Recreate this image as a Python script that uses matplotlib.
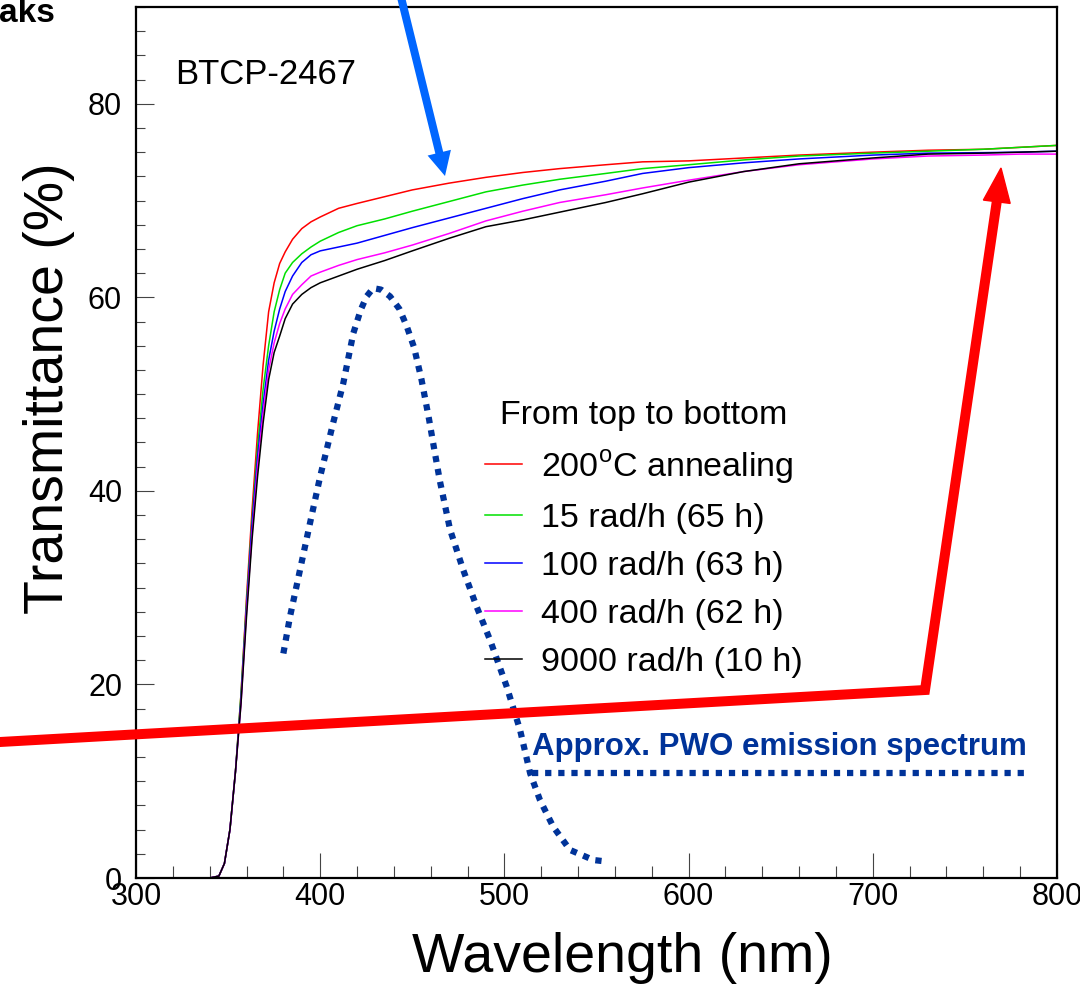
import matplotlib
matplotlib.use('Agg')
import matplotlib.pyplot as plt
from matplotlib.lines import Line2D
from matplotlib.patches import FancyArrow
from matplotlib.ticker import MultipleLocator

plt.rcParams['font.family'] = ['Liberation Sans', 'DejaVu Sans']
plt.rcParams['mathtext.fontset'] = 'custom'
plt.rcParams['mathtext.rm'] = 'Liberation Sans'

# --- data --- #
wavelength = [300, 340, 345, 348, 351, 354, 357, 360, 363, 366, 369, 372, 375,
              378, 381, 385, 390, 395, 400, 410, 420, 435, 450, 470, 490, 510,
              530, 555, 575, 600, 630, 660, 700, 730, 760, 780, 800]

t_anneal = [0, 0, 0.2, 1.5, 5, 11, 19, 29, 38, 46, 53, 58.5, 61.5,
            63.5, 64.7, 66.0, 67.1, 67.8, 68.3, 69.2, 69.7, 70.4, 71.1, 71.8, 72.4, 72.9,
            73.3, 73.7, 74.0, 74.1, 74.4, 74.7, 75.0, 75.2, 75.3, 75.5, 75.7]
t_15 = [0, 0, 0.2, 1.5, 5, 11, 19, 28.5, 37, 44.5, 50.5, 55, 58.5,
        60.8, 62.5, 63.6, 64.5, 65.2, 65.8, 66.7, 67.4, 68.1, 68.9, 69.9, 70.9, 71.6,
        72.2, 72.8, 73.3, 73.7, 74.2, 74.6, 74.9, 75.1, 75.3, 75.5, 75.7]
t_100 = [0, 0, 0.2, 1.5, 5, 11, 18.5, 28, 36.5, 43.5, 49, 53.5, 56.5,
         58.8, 60.6, 62.2, 63.6, 64.4, 64.8, 65.2, 65.6, 66.4, 67.2, 68.2, 69.2, 70.2,
         71.1, 72.0, 72.8, 73.4, 73.9, 74.3, 74.7, 74.9, 74.95, 75.0, 75.1]
t_400 = [0, 0, 0.2, 1.5, 5, 11, 18, 27.5, 35.5, 42.5, 48, 52.5, 55.3,
         57.3, 58.8, 60.3, 61.3, 62.2, 62.6, 63.3, 63.9, 64.6, 65.4, 66.6, 67.9, 68.9,
         69.8, 70.6, 71.3, 72.1, 73.0, 73.7, 74.3, 74.6, 74.7, 74.8, 74.8]
t_9000 = [0, 0, 0.2, 1.5, 5, 11, 18, 27, 35, 41.5, 47, 51.5, 54.3,
          56.0, 57.8, 59.3, 60.3, 61.0, 61.5, 62.2, 62.9, 63.8, 64.8, 66.1, 67.3, 68.0,
          68.8, 69.8, 70.7, 71.9, 73.0, 73.8, 74.4, 74.8, 74.9, 75.0, 75.1]

series = [t_anneal, t_15, t_100, t_400, t_9000]
labels = ['200$^{\\rm o}$C annealing', '15 rad/h (65 h)', '100 rad/h (63 h)',
          '400 rad/h (62 h)', '9000 rad/h (10 h)']
colors = ['#ff0000', '#00e000', '#0000ff', '#ff00ff', '#000000']

# approximate PWO emission spectrum (arbitrary scale)
em_x = [380, 383.6, 389, 394.5, 400, 407, 412.5, 418, 422, 425.2, 428.8, 433,
        437.9, 443, 447, 451, 455, 459, 462, 465, 470.5, 477.7, 485, 492.2,
        501.2, 508.5, 514, 519.3, 526.5, 535.6, 548.3, 555.5]
em_y = [23.2, 27.0, 31.8, 36.7, 41.5, 47.0, 51.1, 56.3, 58.7, 60.1, 60.95, 60.8,
        60.1, 58.8, 57.0, 54.8, 51.5, 47.5, 44.2, 41.0, 36.0, 31.8, 28.0, 24.6,
        19.8, 15.3, 10.8, 8.06, 5.3, 2.9, 1.86, 1.7]

# --- figure --- #
W, H = 1080, 984
fig = plt.figure(figsize=(W / 100, H / 100), dpi=100, facecolor='white')
ax = fig.add_axes([136 / W, 1 - 878 / H, 921 / W, 871 / H])

for y, c, lab in zip(series, colors, labels):
    ax.plot(wavelength, y, color=c, lw=1.1, label=lab)

ax.plot(em_x, em_y, color='#003399', lw=4.5, linestyle=(0, (1.0, 1.1)),
        dash_capstyle='butt')
ax.plot([515, 785], [10.8, 10.8], color='#003399', lw=4.5,
        linestyle=(0, (1.0, 1.1)), dash_capstyle='butt')
ax.text(515, 12.0, 'Approx. PWO emission spectrum', color='#003399',
        fontsize=22.5, fontweight='bold', va='bottom', ha='left')

ax.text(321, 82, 'BTCP-2467', fontsize=25, va='baseline')

ax.set_xlim(300, 800)
ax.set_ylim(0, 90)
ax.xaxis.set_major_locator(MultipleLocator(100))
ax.xaxis.set_minor_locator(MultipleLocator(20))
ax.yaxis.set_major_locator(MultipleLocator(20))
ax.yaxis.set_minor_locator(MultipleLocator(2.5))
ax.tick_params(axis='x', which='major', direction='in', length=18, width=0.8,
               color='#444444', labelsize=22, pad=3)
ax.tick_params(axis='x', which='minor', direction='in', length=9, width=0.8,
               color='#444444')
ax.tick_params(axis='y', which='major', direction='in', length=13, width=0.8,
               color='#444444', labelsize=22, pad=10)
ax.tick_params(axis='y', which='minor', direction='in', length=6.5, width=0.8,
               color='#444444')
for spine in ax.spines.values():
    spine.set_linewidth(1.6)

ax.set_xlabel('Wavelength (nm)', fontsize=40)
ax.set_ylabel('Transmittance (%)', fontsize=40)
ax.xaxis.set_label_coords(0.528, -0.062)
ax.yaxis.set_label_coords(-0.066, 0.5626)

leg = ax.legend(title='From top to bottom', frameon=False, fontsize=24.5,
                title_fontsize=24.5, loc='upper left',
                bbox_to_anchor=(485 / W, 1 - 400 / H),
                bbox_transform=fig.transFigure, borderaxespad=0, borderpad=0,
                handlelength=1.1, handletextpad=0.55, labelspacing=0.5)

# annotation arrows, drawn in figure inches
def px(x, y):
    return x / 100, (H - y) / 100

red = [px(0, 742), px(925, 690), px(997, 200)]
fig.add_artist(Line2D([p[0] for p in red], [p[1] for p in red],
                      transform=fig.dpi_scale_trans, color='#ff0000', lw=7.2,
                      solid_joinstyle='miter'))
x0, y0 = px(997, 200)
x1, y1 = px(1001, 168)
fig.add_artist(FancyArrow(x0, y0, x1 - x0, y1 - y0, width=0, head_width=0.27,
                          head_length=0.34, length_includes_head=True,
                          color='#ff0000', transform=fig.dpi_scale_trans))

bx0, by0 = px(398, -15)
bx1, by1 = px(445, 176)
fig.add_artist(FancyArrow(bx0, by0, bx1 - bx0, by1 - by0, width=0.08,
                          head_width=0.24, head_length=0.24,
                          length_includes_head=True, color='#0066ff', lw=0,
                          transform=fig.dpi_scale_trans))

fig.text(55 / W, 1 - 22 / H, 'aks', fontsize=24, fontweight='bold',
         ha='right', va='baseline')

fig.savefig('out.png', dpi=100, facecolor='white')
